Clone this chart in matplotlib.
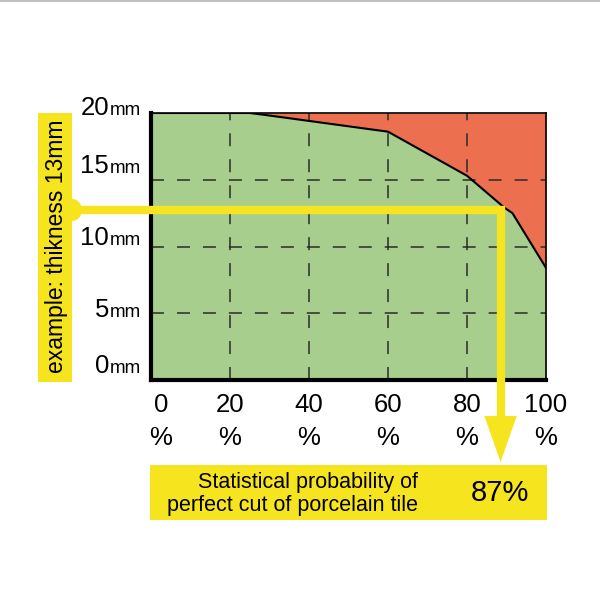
import matplotlib
matplotlib.use("Agg")
import matplotlib.pyplot as plt
from matplotlib.patches import Rectangle, Polygon, Ellipse
from matplotlib.lines import Line2D
from matplotlib.transforms import blended_transform_factory

plt.rcParams['font.family'] = ['Liberation Sans', 'DejaVu Sans']

# ---- data ----
prob_pct = [0, 25, 29, 60, 80, 89.5, 91.5, 100]
thickness_mm = [20, 20, 19.85, 18.6, 15.3, 12.9, 12.5, 8.4]
x_ticks = [0, 20, 40, 60, 80, 100]
y_ticks = [0, 5, 10, 15, 20]
example_thickness = 12.75
example_prob = 88.5
example_label = "example: thikness 13mm"
result_label = "Statistical probability of\nperfect cut of porcelain tile"
result_value = "87%"

GREEN = "#A8CE8E"
RED = "#EC6F50"
YELLOW = "#F6E51E"

W = H = 600
fig = plt.figure(figsize=(6, 6), dpi=100)

def fx(px):
    return px / W

def fy(py):
    return 1 - py / H

ax = fig.add_axes([fx(151), fy(380), fx(546) - fx(151), (380 - 113) / H])
ax.set_xlim(0, 100)
ax.set_ylim(0, 20)

ax.fill_between(prob_pct, 0, thickness_mm, color=GREEN, lw=0, zorder=1)
ax.fill_between(prob_pct, thickness_mm, 20, color=RED, lw=0, zorder=1)

dash = (0, (8.5, 8.5))
ax.vlines(x_ticks[1:-1], 0, 20, colors="#2a2a2a", lw=1.1, linestyles=[dash], zorder=2)
ax.hlines(y_ticks[1:-1], 0, 100, colors="#2a2a2a", lw=1.1, linestyles=[dash], zorder=2)

ax.plot(prob_pct, thickness_mm, color="black", lw=1.5, zorder=3)

ax.set_xticks([])
ax.set_yticks([])
for s in ["left", "bottom"]:
    ax.spines[s].set_linewidth(3)
for s in ["top", "right"]:
    ax.spines[s].set_linewidth(1.2)

NUM_SIZE = 18.5

# y labels
y_base_px = {0: 373, 5: 317, 10: 245, 15: 173, 20: 115}
for v in y_ticks:
    yb = fy(y_base_px[v])
    fig.text(fx(109), yb, str(v), ha="right", va="baseline", fontsize=NUM_SIZE)
    fig.text(fx(141), yb, "mm", ha="right", va="baseline", fontsize=13.5)

# x labels
tx = blended_transform_factory(ax.transData, fig.transFigure)
for v in x_ticks:
    xv = v + (2.5 if v == 0 else 0)
    ax.text(xv, fy(412), str(v), transform=tx, ha="center", va="baseline", fontsize=NUM_SIZE)
    ax.text(xv, fy(445), "%", transform=tx, ha="center", va="baseline", fontsize=NUM_SIZE)

# example box (left)
fig.patches.append(Rectangle((fx(38), fy(382)), fx(72) - fx(38), (382 - 113) / H,
                             transform=fig.transFigure, color=YELLOW, lw=0, zorder=5))
fig.patches.append(Ellipse((fx(72), fy(210)), 20 / W, 22 / H,
                           transform=fig.transFigure, color=YELLOW, lw=0, zorder=5))
fig.text(fx(56), fy(246), example_label, rotation=90, ha="center", va="center",
         fontsize=16.5, zorder=6)

# example path
ax.add_line(Line2D([-20, example_prob, example_prob], [example_thickness, example_thickness, -2.9],
                   color=YELLOW, lw=6, solid_joinstyle="miter", solid_capstyle="butt",
                   clip_on=False, zorder=4))
ax.add_patch(Polygon([[example_prob - 4.1, -2.7], [example_prob + 4.1, -2.7], [example_prob, -6.15]],
                     closed=True, color=YELLOW, lw=0, clip_on=False, zorder=4))

# result box (bottom)
fig.patches.append(Rectangle((fx(150), fy(520)), fx(547) - fx(150), (520 - 465) / H,
                             transform=fig.transFigure, color=YELLOW, lw=0, zorder=5))
fig.text(fx(418), fy(494), result_label, ha="right", va="center", multialignment="right",
         fontsize=15.5, linespacing=1.15, zorder=6)
fig.text(fx(500), fy(493), result_value, ha="center", va="center", fontsize=21, zorder=6)

# thin grey rule at top
fig.add_artist(Line2D([0, 1], [fy(1), fy(1)], transform=fig.transFigure, color="#c0c0c0", lw=1.5))

fig.savefig("out.png", dpi=100)
